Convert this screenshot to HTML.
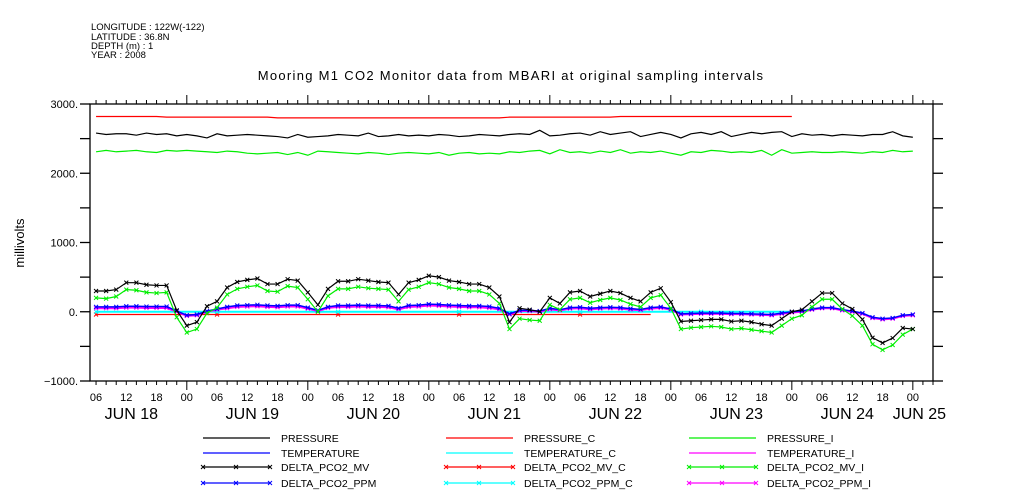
<!DOCTYPE html>
<html><head><meta charset="utf-8"><style>
body{margin:0;background:#fff;}
svg{display:block;font-family:"Liberation Sans",sans-serif;}
</style></head><body>
<svg id="chart" width="1009" height="504" viewBox="0 0 1009 504">
<g font-size="9.5" fill="#000">
<text x="91" y="30">LONGITUDE : 122W(-122)</text>
<text x="91" y="40">LATITUDE : 36.8N</text>
<text x="91" y="49">DEPTH (m) : 1</text>
<text x="91" y="58">YEAR : 2008</text>
</g>
<text x="511" y="80" text-anchor="middle" font-size="13" letter-spacing="1.3">Mooring M1 CO2 Monitor data from MBARI at original sampling intervals</text>
<text transform="translate(24,243) rotate(-90)" text-anchor="middle" font-size="13">millivolts</text>
<g id="axes"></g>
<g id="series"></g>
<g id="legend"></g>
</svg>
<script>
// hours from Jun18 00:00, 2h steps starting Jun18 06
const startHour = 6;
const stepHours = 2;
const mv = [300,300,320,420,420,390,380,380,20,
 -200,-150,80,150,350,430,460,480,400,400,470,450,
 280,100,330,440,440,470,450,430,420,250,420,460,
 520,500,450,430,400,400,350,220,-150,50,30,0,
 200,120,280,300,220,260,300,270,200,150,280,340,
 140,-140,-130,-120,-110,-110,-140,-130,-150,-180,-200,-100,
 0,30,150,270,270,120,40,-110,-375,-450,-380,
 -235,-250];
const mvI = [200,190,220,320,310,280,270,280,-80,
 -300,-250,-20,60,250,330,360,380,300,290,370,350,
 180,0,230,330,330,360,340,330,320,150,320,360,
 420,400,350,330,300,300,250,120,-250,-100,-120,-130,
 100,30,180,200,130,170,200,170,110,70,200,240,
 50,-250,-230,-220,-210,-220,-250,-240,-260,-280,-300,-200,
 -100,-50,70,180,180,40,-60,-200,-470,-550,-480,
 -330,-250];
const ppm = [70,70,70,80,80,75,75,75,10,
 -50,-40,10,40,70,90,95,100,90,85,95,95,
 60,20,70,90,90,95,90,90,85,50,90,95,
 110,105,95,90,85,85,75,50,-30,20,20,10,
 50,30,60,65,50,60,65,60,45,35,60,70,
 40,-30,-25,-20,-20,-20,-25,-25,-30,-35,-40,-20,
 0,10,40,60,60,30,10,-20,-80,-100,-90,
 -50,-40];
const ppmI = [50,50,50,60,60,55,55,55,0,
 -60,-50,0,30,50,70,75,80,70,65,75,75,
 45,10,55,70,70,75,70,70,65,35,70,75,
 90,85,75,70,65,65,55,35,-40,10,10,0,
 35,20,45,50,35,45,50,45,30,25,45,55,
 30,-40,-35,-30,-30,-30,-35,-35,-40,-45,-50,-30,
 -10,0,30,50,50,20,0,-30,-90,-110,-100,
 -60,-50];
const pressure = [2580,2560,2570,2570,2550,2580,2560,2570,2540,
 2560,2540,2510,2570,2540,2550,2560,2550,2540,2530,2510,2560,
 2520,2530,2540,2560,2550,2540,2580,2530,2540,2560,2540,2550,
 2540,2560,2550,2530,2540,2560,2550,2540,2560,2570,2560,2620,
 2540,2550,2570,2580,2550,2600,2560,2580,2600,2530,2560,2590,
 2560,2510,2570,2590,2560,2600,2530,2560,2590,2570,2590,2600,
 2530,2570,2550,2560,2540,2560,2550,2540,2560,2560,2600,
 2540,2520];
const pressureI = [2310,2330,2310,2320,2330,2310,2300,2330,2320,
 2330,2320,2310,2300,2320,2310,2290,2280,2290,2300,2270,2300,
 2260,2320,2310,2300,2290,2280,2300,2290,2270,2290,2300,2290,
 2280,2300,2260,2290,2300,2280,2290,2280,2310,2300,2320,2330,
 2280,2340,2300,2310,2290,2320,2300,2340,2290,2310,2300,2320,
 2290,2260,2310,2300,2330,2320,2300,2310,2300,2330,2260,2340,
 2290,2300,2310,2300,2300,2310,2300,2290,2310,2300,2330,
 2310,2320];
const pressureC = [2820,2820,2820,2820,2820,2820,2820,2810,2810,
 2810,2810,2810,2810,2810,2810,2810,2810,2810,2800,2800,2800,
 2800,2800,2800,2800,2800,2800,2800,2800,2800,2800,2800,2800,
 2800,2800,2800,2800,2800,2800,2800,2800,2810,2810,2810,2810,
 2810,2810,2810,2810,2810,2810,2810,2820,2820,2820,2820,2820,
 2820,2820,2820,2820,2820,2820,2820,2820,2820,2820,2820,2820,2820];
const mvC = new Array(56).fill(-40);
const ppmC = new Array(70).fill(0);
const yTicks = [3000,2000,1000,0,-1000];
const dayLabels = ["JUN 18","JUN 19","JUN 20","JUN 21","JUN 22","JUN 23","JUN 24","JUN 25"];
const dayLabelHour = [13,13,13,13,13,13,11,1.3];
const hourLabels = ["00","06","12","18"];

const L=90,R=933,T=104,B=381;
const hMin=4.8, hMax=172;
const xs=h=>L+(h-hMin)/(hMax-hMin)*(R-L);
const ys=v=>T+(3000-v)/4000*(B-T);
const NS="http://www.w3.org/2000/svg";
function mk(tag,attrs,parent){const e=document.createElementNS(NS,tag);for(const k in attrs)e.setAttribute(k,attrs[k]);parent.appendChild(e);return e;}
const axes=document.getElementById('axes');
const ser=document.getElementById('series');
const leg=document.getElementById('legend');

let f=mk('rect',{x:L,y:T,width:R-L,height:B-T,fill:'none',stroke:'#000','stroke-width':1.3},axes);


for(let v=-1000;v<=3000;v+=500){
  const y=ys(v);
  let t=mk('line',{x1:L-10,x2:L,y1:y,y2:y,stroke:'#000','stroke-width':1.3},axes);
  
  
  let t2=mk('line',{x1:R,x2:R+10,y1:y,y2:y,stroke:'#000','stroke-width':1.3},axes);
  
  
}
yTicks.forEach(v=>{
  let t=mk('text',{x:L-12,y:ys(v)+4,'text-anchor':'end','font-size':11},axes);
  t.textContent=(v<0?'\u2212'+(-v):v)+'.';
  
  
});
for(let h=6;h<=hMax;h+=2){
  const x=xs(h);const major=h%24===0;
  let a=mk('line',{x1:x,x2:x,y1:T,y2:T-(major?9:4),stroke:'#000'},axes);
  
  
  let b=mk('line',{x1:x,x2:x,y1:B,y2:B+(major?9:4),stroke:'#000'},axes);
  
  
  if(h%6===0){
    let t=mk('text',{x:x,y:401,'text-anchor':'middle','font-size':11},axes);
    t.textContent=hourLabels[(h%24)/6];
    
    
  }
}
dayLabels.forEach((d,i)=>{
  const x=xs(i*24+dayLabelHour[i]);
  let t=mk('text',{x:x,y:419,'text-anchor':'middle','font-size':16},axes);
  t.textContent=d;
  
  
});

function series(arr,color,name,marks,w){
  const pts=arr.map((v,i)=>[xs(startHour+i*stepHours),ys(v)]);
  let p=mk('polyline',{points:pts.map(p=>p.join(',')).join(' '),fill:'none',stroke:color,'stroke-width':w||1.2},ser);
  
  
  if(marks){
    pts.forEach(([x,y],i)=>{
      if(i%marks) return;
      let m=mk('path',{d:`M${x-2},${y-2}L${x+2},${y+2}M${x-2},${y+2}L${x+2},${y-2}`,stroke:color,'stroke-width':1},ser);
      
      
    });
  }
}
series(pressureC,'#ff0000','pressure-c-line',0);
series(pressure,'#000','pressure-line',0);
series(pressureI,'#00ee00','pressure-i-line',0);
series(mvC,'#ff0000','delta-pco2-mv-c-line',12);
series(ppmC,'#00ffff','delta-pco2-ppm-c-line',12,2);
series(ppmI,'#ff00ff','delta-pco2-ppm-i-line',1,2);
series(ppm,'#0000ff','delta-pco2-ppm-line',1,1.5);
series(mvI,'#00ee00','delta-pco2-mv-i-line',1);
series(mv,'#000','delta-pco2-mv-line',1);

const legItems=[
 ['PRESSURE','#000',0],['PRESSURE_C','#ff0000',0],['PRESSURE_I','#00ee00',0],
 ['TEMPERATURE','#0000ff',0],['TEMPERATURE_C','#00ffff',0],['TEMPERATURE_I','#ff00ff',0],
 ['DELTA_PCO2_MV','#000',1],['DELTA_PCO2_MV_C','#ff0000',1],['DELTA_PCO2_MV_I','#00ee00',1],
 ['DELTA_PCO2_PPM','#0000ff',1],['DELTA_PCO2_PPM_C','#00ffff',1],['DELTA_PCO2_PPM_I','#ff00ff',1]];
const colX=[203,446,689], rowY=[438,453,467,483];
legItems.forEach((it,i)=>{
  const c=i%3,r=Math.floor(i/3);const x=colX[c],y=rowY[r];
  let g=mk('g',{},leg);
  
  
  mk('line',{x1:x,x2:x+67,y1:y,y2:y,stroke:it[1],'stroke-width':1.3},g);
  if(it[2]){[x,x+33,x+67].forEach(mx=>mk('path',{d:`M${mx-2},${y-2}L${mx+2},${y+2}M${mx-2},${y+2}L${mx+2},${y-2}`,stroke:it[1]},g));}
  let t=mk('text',{x:x+78,y:y+4,'font-size':10.5},g);
  t.textContent=it[0];
});
</script>
</body></html>
